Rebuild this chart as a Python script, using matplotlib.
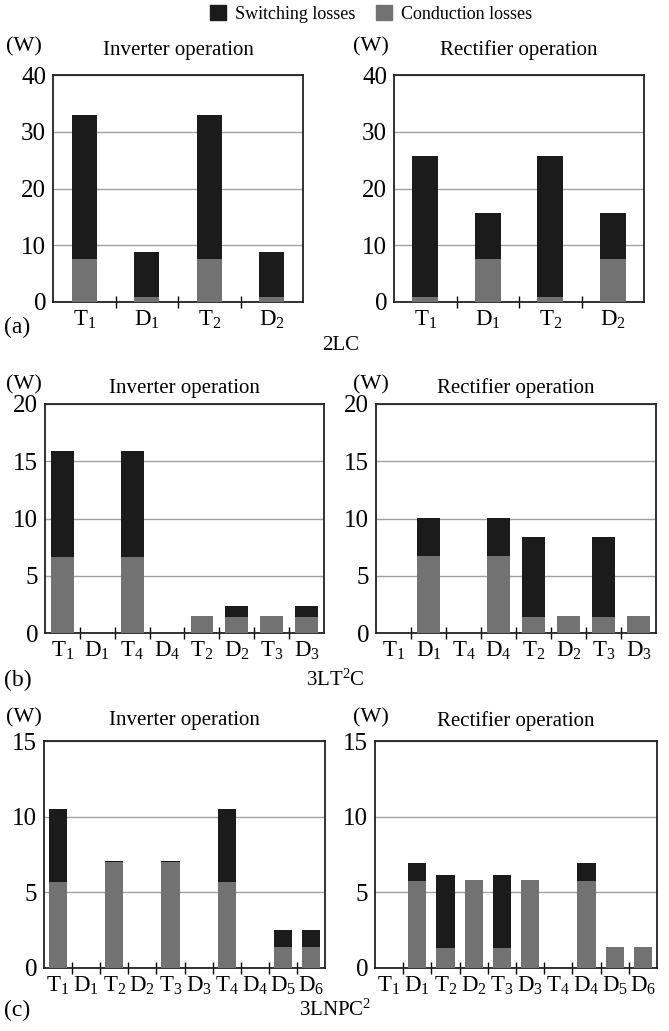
import matplotlib.pyplot as plt
from matplotlib.patches import Patch

plt.rcParams['font.family'] = ['Liberation Serif', 'DejaVu Serif']
plt.rcParams['mathtext.fontset'] = 'custom'
plt.rcParams['mathtext.rm'] = 'Liberation Serif'
plt.rcParams['mathtext.it'] = 'Liberation Serif:italic'

# device labels
labels_2lc = ["T$_1$", "D$_1$", "T$_2$", "D$_2$"]
labels_3lt2c = ["T$_1$", "D$_1$", "T$_4$", "D$_4$", "T$_2$", "D$_2$", "T$_3$", "D$_3$"]
labels_3lnpc2 = ["T$_1$", "D$_1$", "T$_2$", "D$_2$", "T$_3$", "D$_3$",
                 "T$_4$", "D$_4$", "D$_5$", "D$_6$"]

# losses (W): conduction at the bottom, switching stacked on top
cond_2lc_inv = [7.6, 0.9, 7.6, 0.9]
sw_2lc_inv = [25.3, 7.9, 25.3, 7.9]
cond_2lc_rec = [0.9, 7.5, 0.9, 7.5]
sw_2lc_rec = [24.8, 8.2, 24.8, 8.2]

cond_3lt2c_inv = [6.6, 0, 6.6, 0, 1.45, 1.4, 1.45, 1.4]
sw_3lt2c_inv = [9.3, 0, 9.3, 0, 0, 0.95, 0, 0.95]
cond_3lt2c_rec = [0, 6.7, 0, 6.7, 1.4, 1.45, 1.4, 1.45]
sw_3lt2c_rec = [0, 3.35, 0, 3.35, 7.0, 0, 7.0, 0]

cond_3lnpc2_inv = [5.7, 0, 7.0, 0, 7.0, 0, 5.7, 0, 1.4, 1.4]
sw_3lnpc2_inv = [4.8, 0, 0.07, 0, 0.07, 0, 4.8, 0, 1.1, 1.1]
cond_3lnpc2_rec = [0, 5.75, 1.32, 5.8, 1.32, 5.8, 0, 5.75, 1.4, 1.4]
sw_3lnpc2_rec = [0, 1.2, 4.8, 0, 4.8, 0, 0, 1.2, 0, 0]

SW_COLOR = "#1b1b1b"
COND_COLOR = "#727272"
W, H = 669, 1031

fig = plt.figure(figsize=(W / 100, H / 100), dpi=100)


def box(l, t, r, b):
    return [l / W, 1 - b / H, (r - l) / W, (b - t) / H]


def ftext(x, y, s, **kw):
    fig.text(x / W, 1 - y / H, s, va="center", **kw)


def panel(rect, labels, cond, sw, ymax, step, width):
    ax = fig.add_axes(box(*rect))
    x = list(range(len(labels)))
    ax.bar(x, cond, width=width, color=COND_COLOR, zorder=3)
    ax.bar(x, sw, width=width, bottom=cond, color=SW_COLOR, zorder=3)
    ax.set_xlim(-0.5, len(labels) - 0.5)
    ax.set_ylim(0, ymax)
    ax.set_yticks(range(0, ymax + 1, step))
    ax.set_xticks(x)
    ax.set_xticklabels(labels)
    ax.set_xticks([i + 0.5 for i in range(len(labels) - 1)], minor=True)
    ax.tick_params(axis="x", which="major", length=0, labelsize=16.5, pad=5)
    ax.tick_params(axis="x", which="minor", length=8, width=1, direction="inout")
    ax.tick_params(axis="y", length=0, labelsize=18, pad=5)
    ax.yaxis.grid(True, color="#a0a0a0", lw=1)
    ax.set_axisbelow(True)
    for s in ax.spines.values():
        s.set_linewidth(1.3)
        s.set_color("#222222")
    return ax


panel((53, 75, 303, 302), labels_2lc, cond_2lc_inv, sw_2lc_inv, 40, 10, 0.4)
panel((394, 75, 644, 302), labels_2lc, cond_2lc_rec, sw_2lc_rec, 40, 10, 0.41)
panel((45, 404, 324, 633), labels_3lt2c, cond_3lt2c_inv, sw_3lt2c_inv, 20, 5, 0.65)
panel((376, 404, 656, 633), labels_3lt2c, cond_3lt2c_rec, sw_3lt2c_rec, 20, 5, 0.65)
panel((44, 741, 325, 968), labels_3lnpc2, cond_3lnpc2_inv, sw_3lnpc2_inv, 15, 5, 0.65)
panel((375, 741, 657, 968), labels_3lnpc2, cond_3lnpc2_rec, sw_3lnpc2_rec, 15, 5, 0.65)

# titles and units
for yw in [47, 385, 718]:
    ftext(24, yw, "(W)", ha="center", fontsize=16)
    ftext(371, yw, "(W)", ha="center", fontsize=16)
ftext(178, 50, "Inverter operation", ha="center", fontsize=15)
ftext(519, 50, "Rectifier operation", ha="center", fontsize=15)
ftext(184, 388, "Inverter operation", ha="center", fontsize=15)
ftext(516, 388, "Rectifier operation", ha="center", fontsize=15)
ftext(184, 721, "Inverter operation", ha="center", fontsize=15)
ftext(516, 721, "Rectifier operation", ha="center", fontsize=15)

# sub-figure labels
ftext(4, 327, "(a)", ha="left", fontsize=17)
ftext(341, 345, "2LC", ha="center", fontsize=15)
ftext(4, 680, "(b)", ha="left", fontsize=17)
ftext(335, 680, "3LT$^2$C", ha="center", fontsize=15)
ftext(4, 1010, "(c)", ha="left", fontsize=17)
ftext(335, 1010, "3LNPC$^2$", ha="center", fontsize=15)

handles = [Patch(color=SW_COLOR, label="Switching losses"),
           Patch(color=COND_COLOR, label="Conduction losses")]
fig.legend(handles=handles, loc="center", bbox_to_anchor=(371 / W, 1 - 14 / H),
           ncol=2, frameon=False, fontsize=13, handlelength=0.9, handleheight=0.9,
           handletextpad=0.5, columnspacing=1.1)

fig.savefig("out.png", dpi=100)
